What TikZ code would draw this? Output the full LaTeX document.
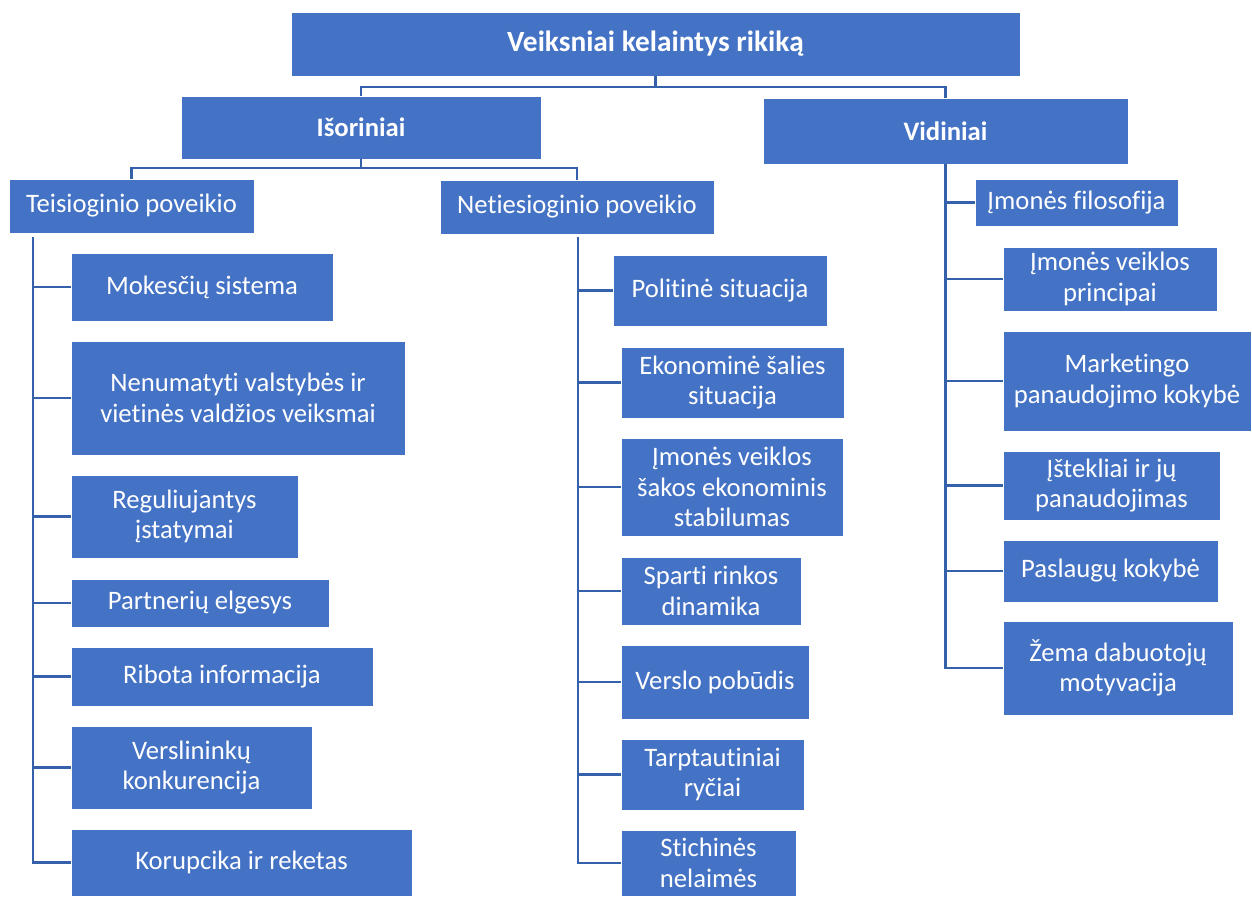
\documentclass[tikz,border=0pt]{standalone}
\usepackage{fontspec}
\setmainfont{Carlito}[Ligatures=NoCommon]
\definecolor{boxblue}{HTML}{4472C4}
\definecolor{linkblue}{HTML}{3560AA}

\begin{document}
\begin{tikzpicture}[x=0.75pt, y=-0.75pt,
  factor/.style={rectangle, draw=white, line width=0.6pt, fill=boxblue, text=white, align=center, inner sep=0pt, font=\fontsize{20}{23}\selectfont},
  head/.style={factor, font=\fontsize{20}{23}\selectfont\bfseries},
  wh/.style 2 args={minimum width=#1*0.75pt, minimum height=#2*0.75pt},
  link/.style={draw=linkblue, line width=1.6pt}]
\useasboundingbox (0,0) rectangle (1252,896);
%top levels
\node[head, wh={729}{64}, font=\fontsize{22}{26}\selectfont\bfseries] at (655.5,44) (top) {Veiksniai kelaintys rikiką};
\node[head, wh={360}{63}] at (361,127.5) (isor) {Išoriniai};
\node[head, wh={365}{66}] at (945.5,131) (vid) {Vidiniai};
\node[factor, wh={245}{54}] at (131.5,206) (teis) {Teisioginio poveikio};
\node[factor, wh={274}{54}] at (577,207) (net) {Netiesioginio poveikio};
%teisioginio
\node[factor, wh={262}{68}] at (202,287) (t1) {Mokesčių sistema};
\node[factor, wh={334}{114}] at (238,398) (t2) {Nenumatyti valstybės ir\\vietinės valdžios veiksmai};
\node[factor, wh={227}{83}] at (184.5,516.5) (t3) {Reguliujantys\\įstatymai};
\node[factor, wh={258}{48}] at (200,603) (t4) {Partnerių elgesys};
\node[factor, wh={302}{59}] at (222,676.5) (t5) {Ribota informacija};
\node[factor, wh={241}{83}] at (191.5,767.5) (t6) {Verslininkų\\konkurencija};
\node[factor, wh={341}{67}] at (241.5,862.5) (t7) {Korupcika ir reketas};
%netiesioginio
\node[factor, wh={214}{71}] at (720,290.5) (n1) {Politinė situacija};
\node[factor, wh={223}{71}] at (732.5,382.5) (n2) {Ekonominė šalies\\situacija};
\node[factor, wh={222}{98}] at (732,487) (n3) {Įmonės veiklos\\šakos ekonominis\\stabilumas};
\node[factor, wh={180}{68}] at (711,591) (n4) {Sparti rinkos\\dinamika};
\node[factor, wh={188}{74}] at (715,682) (n5) {Verslo pobūdis};
\node[factor, wh={183}{71}] at (712.5,774.5) (n6) {Tarptautiniai\\ryčiai};
\node[factor, wh={175}{66}] at (708.5,863) (n7) {Stichinės\\nelaimės};
%vidiniai
\node[factor, wh={203}{47}] at (1076.5,202.5) (v1) {Įmonės filosofija};
\node[factor, wh={214}{64}] at (1110,279) (v2) {Įmonės veiklos\\principai};
\node[factor, wh={248}{100}] at (1127,381) (v3) {Marketingo\\panaudojimo kokybė};
\node[factor, wh={217}{69}] at (1111.5,485.5) (v4) {Įštekliai ir jų\\panaudojimas};
\node[factor, wh={215}{62}] at (1110.5,571) (v5) {Paslaugų kokybė};
\node[factor, wh={230}{94}] at (1118,668) (v6) {Žema dabuotojų\\motyvacija};
%connectors
\coordinate (j0) at (655.5,87);
\coordinate (j1) at (361,168);
\coordinate (ts) at (33,237);
\coordinate (ns) at (578,237);
\draw[link] (top.south) -- (j0) -| (isor.north);
\draw[link] (j0) -| (vid.north);
\draw[link] (isor.south) -- (j1) -| (teis.north);
\draw[link] (j1) -| (net.north);
\draw[link] (ts) |- (t7.west);
\foreach \n in {t1,t2,t3,t4,t5,t6}
  \draw[link] (\n.west) -- (\n.west -| ts);
\draw[link] (ns) |- (n7.west);
\foreach \n in {n1,n2,n3,n4,n5,n6}
  \draw[link] (\n.west) -- (\n.west -| ns);
\draw[link] (vid.south) |- (v6.west);
\foreach \n in {v1,v2,v3,v4,v5}
  \draw[link] (\n.west) -- (\n.west -| vid.south);
\end{tikzpicture}
\end{document}
